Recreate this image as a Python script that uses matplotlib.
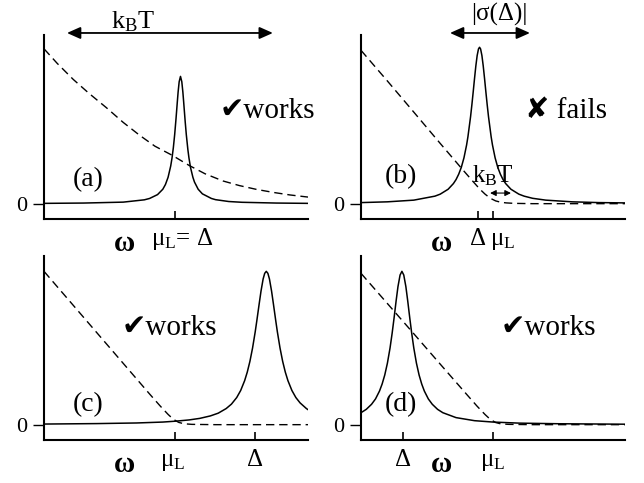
import matplotlib
matplotlib.use("Agg")
import matplotlib.pyplot as plt

plt.rcParams['font.family'] = ['Liberation Serif', 'DejaVu Sans']
plt.rcParams['mathtext.fontset'] = 'custom'
plt.rcParams['mathtext.rm'] = 'Liberation Serif'
plt.rcParams['mathtext.it'] = 'Liberation Serif:italic'

# ---- spectral peak (solid) and lead occupation (dashed), omega in panel units ----
# (a) narrow peak at mu_L = Delta, broad thermal tail
a_peak_x = [0.0, 0.15, 0.30, 0.38, 0.40, 0.43, 0.45, 0.46, 0.47, 0.48,
            0.485, 0.49, 0.495, 0.50, 0.502, 0.505, 0.508, 0.512, 0.517, 0.522,
            0.526, 0.529, 0.532, 0.535, 0.539, 0.545, 0.549, 0.555, 0.564, 0.57,
            0.584, 0.60, 0.634, 0.65, 0.70, 0.75, 0.88, 1.0]
a_peak_y = [0.002, 0.004, 0.010, 0.025, 0.034, 0.059, 0.094, 0.125, 0.172, 0.246,
            0.299, 0.366, 0.451, 0.553, 0.597, 0.664, 0.728, 0.795, 0.830, 0.795,
            0.728, 0.664, 0.597, 0.531, 0.451, 0.352, 0.299, 0.236, 0.172, 0.141,
            0.094, 0.064, 0.034, 0.026, 0.014, 0.009, 0.004, 0.002]
a_occ_x = [0.0, 0.05, 0.111, 0.17, 0.237, 0.30, 0.363, 0.42, 0.486, 0.549, 0.61, 0.678,
           0.74, 0.805, 0.87, 0.931, 1.0]
a_occ_y = [1.01, 0.915, 0.81, 0.72, 0.625, 0.53, 0.445, 0.375, 0.315, 0.25, 0.195, 0.148,
           0.118, 0.093, 0.073, 0.057, 0.043]

# (b) broad peak just below mu_L, sharp Fermi edge
b_peak_x = [0.0, 0.10, 0.20, 0.28, 0.30, 0.33, 0.35, 0.36, 0.37, 0.38,
            0.39, 0.40, 0.405, 0.415, 0.42, 0.425, 0.43, 0.435, 0.44, 0.445,
            0.449, 0.453, 0.458, 0.463, 0.468, 0.473, 0.478, 0.483, 0.493, 0.498,
            0.508, 0.518, 0.528, 0.538, 0.548, 0.568, 0.598, 0.618, 0.65, 0.70,
            0.80, 0.90, 1.0]
b_peak_y = [0.007, 0.012, 0.023, 0.049, 0.062, 0.094, 0.131, 0.157, 0.192, 0.237,
            0.299, 0.383, 0.436, 0.567, 0.645, 0.729, 0.816, 0.898, 0.966, 1.009,
            1.02, 1.009, 0.966, 0.898, 0.816, 0.729, 0.645, 0.567, 0.436, 0.383,
            0.299, 0.237, 0.192, 0.157, 0.131, 0.094, 0.062, 0.049, 0.035, 0.023,
            0.012, 0.007, 0.005]
b_occ_x = [0.0, 0.10, 0.20, 0.30, 0.38, 0.42, 0.45, 0.47, 0.49, 0.51, 0.53, 0.55, 0.58, 0.65, 0.80, 1.0]
b_occ_y = [1.0, 0.80, 0.597, 0.393, 0.232, 0.153, 0.095, 0.062, 0.035, 0.018, 0.009, 0.005,
           0.002, 0.0, 0.0, 0.0]

# (c) peak well above mu_L
c_peak_x = [0.0, 0.20, 0.35, 0.45, 0.50, 0.55, 0.59, 0.63, 0.66, 0.69,
            0.71, 0.73, 0.745, 0.76, 0.77, 0.78, 0.79, 0.80, 0.806, 0.815,
            0.822, 0.83, 0.836, 0.842, 0.848, 0.854, 0.862, 0.869, 0.878, 0.884,
            0.894, 0.904, 0.914, 0.924, 0.939, 0.954, 0.97, 0.994, 1.0]
c_peak_y = [0.004, 0.007, 0.011, 0.017, 0.023, 0.031, 0.041, 0.057, 0.075, 0.105,
            0.134, 0.177, 0.223, 0.287, 0.343, 0.413, 0.5, 0.605, 0.676, 0.787,
            0.871, 0.95, 0.987, 1.0, 0.987, 0.95, 0.871, 0.787, 0.676, 0.605,
            0.5, 0.413, 0.343, 0.287, 0.223, 0.177, 0.142, 0.105, 0.098]
c_occ_x = [0.0, 0.10, 0.20, 0.30, 0.40, 0.44, 0.47, 0.49, 0.51, 0.53, 0.56, 0.65, 1.0]
c_occ_y = [1.0, 0.80, 0.60, 0.40, 0.20, 0.122, 0.067, 0.035, 0.015, 0.006, 0.002, 0.0, 0.0]

# (d) peak well below mu_L
d_peak_x = [0.0, 0.02, 0.04, 0.055, 0.07, 0.08, 0.09, 0.10, 0.11, 0.118,
            0.125, 0.133, 0.14, 0.148, 0.155, 0.162, 0.17, 0.177, 0.185, 0.192,
            0.20, 0.21, 0.22, 0.23, 0.24, 0.255, 0.27, 0.29, 0.31, 0.36,
            0.43, 0.50, 0.60, 0.75, 1.0]
d_peak_y = [0.078, 0.10, 0.133, 0.168, 0.219, 0.265, 0.324, 0.401, 0.5, 0.597,
            0.692, 0.807, 0.9, 0.976, 1.0, 0.976, 0.9, 0.807, 0.692, 0.597,
            0.5, 0.401, 0.324, 0.265, 0.219, 0.168, 0.133, 0.10, 0.078, 0.046,
            0.026, 0.017, 0.010, 0.006, 0.003]
d_occ_x = [0.0, 0.10, 0.20, 0.30, 0.40, 0.44, 0.47, 0.49, 0.51, 0.53, 0.56, 0.65, 1.0]
d_occ_y = [0.987, 0.79, 0.593, 0.395, 0.198, 0.12, 0.066, 0.034, 0.014, 0.005, 0.002, 0.0, 0.0]

# tick positions and their labels
a_ticks = [0.496]
a_tick_labels = ['μ$_\\mathrm{L}$= Δ']
b_ticks = [0.442, 0.499]
b_tick_labels = ['Δ', 'μ$_\\mathrm{L}$']
c_ticks = [0.496, 0.799]
c_tick_labels = ['μ$_\\mathrm{L}$', 'Δ']
d_ticks = [0.159, 0.500]
d_tick_labels = ['Δ', 'μ$_\\mathrm{L}$']

panel_names = ['(a)', '(b)', '(c)', '(d)']
verdicts = ['✔works', '✘ fails', '✔works', '✔works']

W, H = 644, 483
fig = plt.figure(figsize=(W / 100, H / 100), dpi=100)


def box(left, top, right, bottom):
    return [left / W, 1 - bottom / H, (right - left) / W, (bottom - top) / H]


axes = [fig.add_axes(box(44, 35, 308, 219)),
        fig.add_axes(box(361, 35, 625, 219)),
        fig.add_axes(box(44, 256, 308, 440)),
        fig.add_axes(box(361, 256, 625, 440))]

curves = [(a_peak_x, a_peak_y, a_occ_x, a_occ_y),
          (b_peak_x, b_peak_y, b_occ_x, b_occ_y),
          (c_peak_x, c_peak_y, c_occ_x, c_occ_y),
          (d_peak_x, d_peak_y, d_occ_x, d_occ_y)]
ticks = [(a_ticks, a_tick_labels, [5]), (b_ticks, b_tick_labels, [0, 7]),
         (c_ticks, c_tick_labels, [-1.5, 0]), (d_ticks, d_tick_labels, [0, 0])]

# label placements in axes fractions
name_pos = [(0.167, 0.212), (0.152, 0.228), (0.167, 0.19), (0.152, 0.19)]
verdict_pos = [(0.667, 0.549), (0.621, 0.549), (0.295, 0.571), (0.527, 0.571)]

for i, ax in enumerate(axes):
    px, py, ox, oy = curves[i]
    ax.plot(px, py, color='black', lw=1.1, solid_joinstyle='round')
    ax.plot(ox, oy, color='black', lw=1.0, dashes=(6, 3.5))
    ax.set_xlim(0, 1)
    ax.set_ylim(-0.1, 1.1)
    for s in ('top', 'right'):
        ax.spines[s].set_visible(False)
    for s in ('left', 'bottom'):
        ax.spines[s].set_linewidth(1.5)
    ax.set_yticks([0])
    ax.set_yticklabels(['0'], fontsize=16)
    ax.tick_params(axis='y', direction='out', length=8, width=1.0, pad=4)
    tpos, tlab, tdx = ticks[i]
    ax.set_xticks(tpos)
    ax.set_xticklabels([])
    ax.tick_params(axis='x', direction='in', length=6, width=1.2)
    for x, lab, dx in zip(tpos, tlab, tdx):
        ax.annotate(lab, xy=(x, 0), xycoords=('data', 'axes fraction'),
                    xytext=(dx, -18.5), textcoords='offset points',
                    ha='center', va='baseline', fontsize=18)
    ax.annotate('ω', xy=(0.305, 0), xycoords='axes fraction',
                xytext=(0, -23), textcoords='offset points',
                ha='center', va='baseline', fontsize=21, fontweight='bold')
    ax.text(name_pos[i][0], name_pos[i][1], panel_names[i], transform=ax.transAxes,
            ha='center', va='center', fontsize=20)
    ax.text(verdict_pos[i][0], verdict_pos[i][1], verdicts[i], transform=ax.transAxes,
            ha='left', va='baseline', fontsize=21, clip_on=False)

big_arrow = dict(arrowstyle='<|-|>,head_length=0.45,head_width=0.2', color='black',
                 lw=1.3, mutation_scale=18, shrinkA=0, shrinkB=0)

# thermal window above panel (a)
axa = axes[0]
axa.annotate('', xy=(0.087, 1.011), xytext=(0.867, 1.011), xycoords='axes fraction',
             arrowprops=big_arrow, annotation_clip=False)
axa.text(0.337, 1.038, 'k$_\\mathrm{B}$T', transform=axa.transAxes,
         ha='center', va='baseline', fontsize=19)

# level width and thermal edge in panel (b)
axb = axes[1]
axb.annotate('', xy=(0.337, 1.011), xytext=(0.64, 1.011), xycoords='axes fraction',
             arrowprops=big_arrow, annotation_clip=False)
axb.text(0.523, 1.114, '|σ(Δ)|', transform=axb.transAxes,
         ha='center', va='center', fontsize=18)
axb.text(0.50, 0.201, 'k$_\\mathrm{B}$T', transform=axb.transAxes,
         ha='center', va='baseline', fontsize=18)
axb.annotate('', xy=(0.489, 0.141), xytext=(0.568, 0.141), xycoords='axes fraction',
             arrowprops=dict(arrowstyle='<|-|>,head_length=0.5,head_width=0.25',
                             color='black', lw=0.8, mutation_scale=7,
                             shrinkA=0, shrinkB=0))

fig.savefig('out.png', dpi=100)
